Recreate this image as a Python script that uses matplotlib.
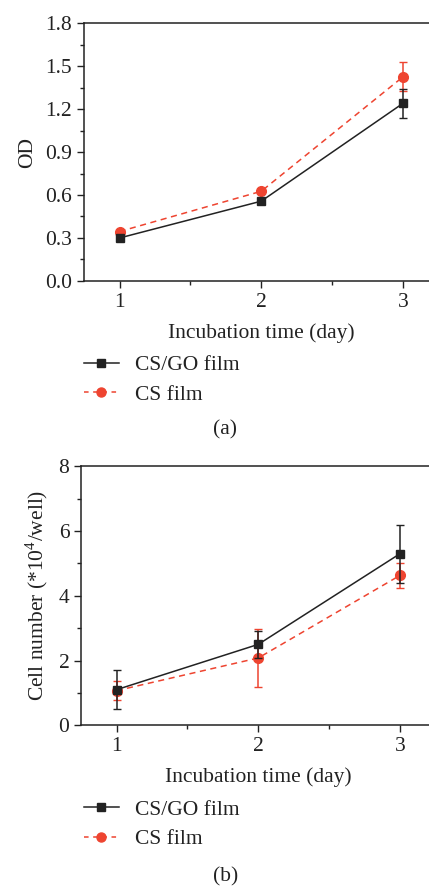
import numpy as np
import matplotlib
matplotlib.use('Agg')
import matplotlib.pyplot as plt
from matplotlib.ticker import MultipleLocator
from matplotlib.lines import Line2D

plt.rcParams['font.family'] = ['Liberation Serif', 'DejaVu Serif']
plt.rcParams['mathtext.fontset'] = 'custom'
plt.rcParams['mathtext.rm'] = 'Liberation Serif'

# data
days = [1, 2, 3]
od_csgo = [0.30, 0.557, 1.24]
od_csgo_err = [0.0, 0.0, 0.10]
od_cs = [0.345, 0.626, 1.425]
od_cs_err = [0.0, 0.0, 0.10]

cell_csgo = [1.1, 2.5, 5.3]
cell_csgo_err = [0.6, 0.42, 0.9]
cell_cs = [1.07, 2.08, 4.63]
cell_cs_err = [0.3, 0.9, 0.38]

labels = ['CS/GO film', 'CS film']
BLACK = '#222222'
RED = '#ee4430'
DASH = (0, (4, 3))
FS = 15.5

fig = plt.figure(figsize=(4.29, 8.88), dpi=100)


def draw_panel(rect, y1, e1, y2, e2, ylim, ymajor, yminor, ylabel, fmt, leg_y, tag, tag_y):
    ax = fig.add_axes(rect)
    ax.errorbar(days, y1, yerr=e1, color=BLACK, marker='s', ms=6, lw=1.1,
                capsize=3, elinewidth=1.1, zorder=3)
    ax.errorbar(days, y2, yerr=e2, color=RED, marker='o', ms=7, lw=1.1, ls=DASH,
                capsize=3, elinewidth=1.1, zorder=2)
    ax.set_xlim(0.75, 3.25)
    ax.set_ylim(*ylim)
    ax.set_xticks(days)
    ax.xaxis.set_minor_locator(MultipleLocator(0.5))
    ax.yaxis.set_major_locator(MultipleLocator(ymajor))
    ax.yaxis.set_minor_locator(MultipleLocator(yminor))
    ax.yaxis.set_major_formatter(plt.FormatStrFormatter(fmt))
    ax.tick_params(which='both', direction='out', labelsize=FS, colors='#222222', width=1)
    ax.tick_params(which='major', length=5)
    ax.tick_params(which='minor', length=3)
    for s in ax.spines.values():
        s.set_linewidth(1.1)
        s.set_color('#222222')
    ax.set_xlabel('Incubation time (day)', fontsize=FS, color='#222222', labelpad=8)
    ax.set_ylabel(ylabel, fontsize=FS, color='#222222', labelpad=6)
    handles = [Line2D([], [], color=BLACK, marker='s', ms=5.5, lw=1.1),
               Line2D([], [], color=RED, marker='o', ms=6.5, lw=1.1, ls=(0, (3, 3)))]
    leg = ax.legend(handles, labels, loc='upper left', bbox_to_anchor=(0.196, leg_y),
                    bbox_transform=fig.transFigure, frameon=False, fontsize=FS,
                    handlelength=1.6, handletextpad=0.75, labelspacing=0.45,
                    borderaxespad=0, borderpad=0)
    for t in leg.get_texts():
        t.set_color('#222222')
    fig.text(0.525, tag_y, tag, ha='center', va='center', fontsize=FS, color='#222222')
    return ax


draw_panel([0.196, 0.6836, 0.826, 0.2904], od_csgo, od_csgo_err, od_cs, od_cs_err,
           (0.0, 1.8), 0.3, 0.15, 'OD', '%.1f', 0.600, '(a)', 1 - 430 / 888)
draw_panel([0.189, 0.1832, 0.826, 0.2917], cell_csgo, cell_csgo_err, cell_cs, cell_cs_err,
           (0, 8), 2, 1, 'Cell number (*10$^{4}$/well)', '%d', 0.0995, '(b)', 1 - 877 / 888)

fig.savefig('out.png', dpi=100)
